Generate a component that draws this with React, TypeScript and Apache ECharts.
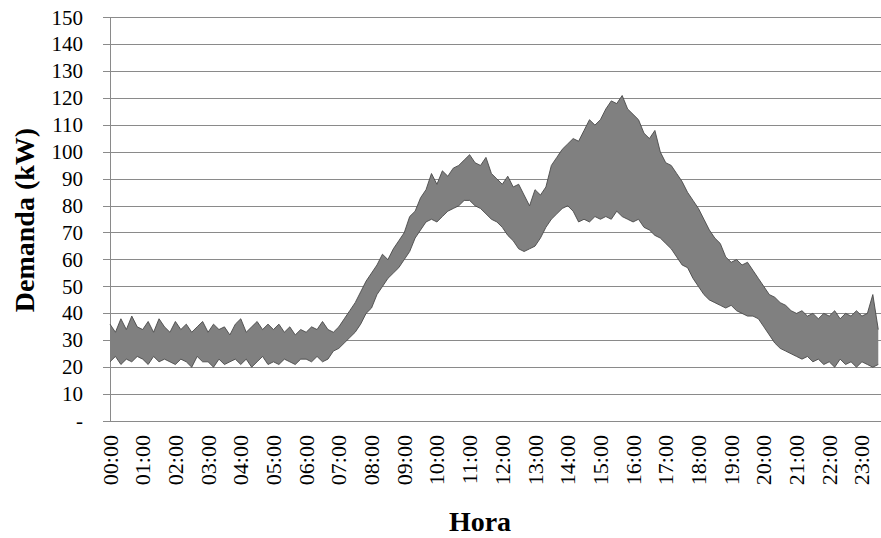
import React, { useEffect, useRef } from "react";
import * as echarts from "echarts";

// Demand samples every 10 minutes starting at 00:00 (kW).
const STEP_MIN = 10;

// Upper edge of the demand band.
const upper: number[] = [
  36, 33, 38, 34, 39, 35,
  34, 37, 33, 38, 35, 33,
  37, 34, 36, 33, 35, 37,
  33, 36, 34, 35, 32, 36,
  38, 33, 35, 37, 34, 36,
  34, 36, 33, 35, 32, 34,
  33, 35, 34, 37, 34, 33,
  35, 38, 41, 44, 48, 52,
  55, 58, 62, 60, 64, 67,
  70, 76, 78, 83, 86, 92,
  88, 93, 91, 94, 95, 97,
  99, 96, 95, 98, 92, 90,
  88, 91, 87, 88, 84, 80,
  86, 84, 87, 95, 98, 101,
  103, 105, 104, 108, 112, 110,
  112, 116, 119, 118, 121, 116,
  114, 112, 107, 105, 108, 100,
  96, 95, 92, 89, 85, 82,
  79, 75, 71, 68, 66, 61,
  59, 60, 58, 59, 56, 53,
  50, 47, 46, 44, 43, 41,
  40, 41, 39, 40, 38, 40,
  39, 41, 38, 40, 39, 41,
  39, 40, 47, 34,
];

// Lower edge of the demand band.
const lower: number[] = [
  22, 24, 21, 23, 22, 24,
  23, 21, 24, 22, 23, 22,
  21, 23, 22, 20, 24, 22,
  22, 20, 23, 21, 22, 23,
  21, 23, 20, 22, 24, 21,
  22, 21, 23, 22, 21, 23,
  23, 22, 24, 22, 23, 26,
  27, 29, 31, 33, 36, 40,
  42, 47, 50, 53, 55, 57,
  60, 63, 68, 71, 74, 75,
  74, 76, 78, 79, 80, 82,
  82, 80, 79, 77, 75, 74,
  72, 69, 67, 64, 63, 64,
  65, 68, 72, 75, 77, 79,
  80, 78, 74, 75, 74, 76,
  75, 76, 75, 78, 76, 75,
  74, 75, 72, 71, 69, 68,
  66, 64, 61, 58, 57, 53,
  50, 47, 45, 44, 43, 42,
  43, 41, 40, 39, 39, 38,
  35, 32, 29, 27, 26, 25,
  24, 23, 24, 22, 23, 21,
  22, 20, 23, 21, 22, 20,
  22, 21, 20, 21,
];

const yTicks = { min: 0, max: 150, step: 10 };
const xRangeMin = { min: 0, max: 1415, step: 60 };

const SERIF = '"Liberation Serif", "Times New Roman", serif';
const AXIS_GRAY = "#8a8a8a";

export default function App() {
  const ref = useRef<HTMLDivElement>(null);

  useEffect(() => {
    if (!ref.current) return;
    const chart = echarts.init(ref.current, undefined, { renderer: "svg" });

    const t = upper.map((_, i) => i * STEP_MIN);
    const bandData = upper.map((v, i) => [t[i], lower[i], v]);
    const top = upper.map((v, i) => [t[i], v]);
    const bottom = lower.map((v, i) => [t[i], v]);

    const hourLabel = (v: number) =>
      `${String(Math.round(v / 60)).padStart(2, "0")}:00`;

    // Whole band as one polygon: upper edge forward, lower edge back.
    const renderBand = (params: any, api: any) => {
      if (params.dataIndex !== 0) return null;
      const pts: number[][] = [];
      for (let i = 0; i < bandData.length; i++) {
        pts.push(api.coord([bandData[i][0], bandData[i][2]]));
      }
      for (let i = bandData.length - 1; i >= 0; i--) {
        pts.push(api.coord([bandData[i][0], bandData[i][1]]));
      }
      return {
        type: "polygon",
        shape: { points: pts },
        style: { fill: "#808080", stroke: "none" },
        silent: true,
      };
    };

    chart.setOption({
      animation: false,
      backgroundColor: "#ffffff",
      grid: { left: 110, right: 0, top: 17.5, bottom: 117 },
      xAxis: {
        type: "value",
        min: xRangeMin.min,
        max: xRangeMin.max,
        interval: xRangeMin.step,
        axisLine: { show: true, lineStyle: { color: AXIS_GRAY, width: 1 } },
        axisTick: { show: false },
        splitLine: { show: false },
        axisLabel: {
          rotate: 90,
          margin: 14,
          color: "#000",
          fontFamily: SERIF,
          fontSize: 22,
          showMaxLabel: false,
          formatter: hourLabel,
        },
      },
      yAxis: {
        type: "value",
        min: yTicks.min,
        max: yTicks.max,
        interval: yTicks.step,
        axisLine: { show: true, lineStyle: { color: AXIS_GRAY, width: 1 } },
        axisTick: {
          show: true,
          length: 7,
          lineStyle: { color: AXIS_GRAY, width: 1 },
        },
        splitLine: { show: true, lineStyle: { color: AXIS_GRAY, width: 1 } },
        axisLabel: {
          margin: 27,
          color: "#000",
          fontFamily: SERIF,
          fontSize: 21,
          formatter: (v: number) => (v === 0 ? "-" : String(v)),
        },
      },
      series: [
        {
          name: "Demanda",
          type: "custom",
          data: bandData,
          encode: { x: 0, y: [1, 2] },
          renderItem: renderBand,
          silent: true,
          z: 2,
        },
        {
          name: "max",
          type: "line",
          data: top,
          symbol: "none",
          silent: true,
          z: 3,
          lineStyle: { color: "#4a4a4a", width: 0.9 },
        },
        {
          name: "min",
          type: "line",
          data: bottom,
          symbol: "none",
          silent: true,
          z: 3,
          lineStyle: { color: "#4a4a4a", width: 0.9 },
        },
      ],
      graphic: [
        {
          type: "text",
          x: 480,
          y: 521,
          style: {
            text: "Hora",
            font: `bold 28px ${SERIF}`,
            fill: "#000",
            textAlign: "center",
            textVerticalAlign: "middle",
            align: "center",
            verticalAlign: "middle",
          },
        },
        {
          type: "text",
          x: 24,
          y: 220,
          rotation: Math.PI / 2,
          style: {
            text: "Demanda (kW)",
            font: `bold 28px ${SERIF}`,
            fill: "#000",
            textAlign: "center",
            textVerticalAlign: "middle",
            align: "center",
            verticalAlign: "middle",
          },
        },
      ],
    });

    return () => chart.dispose();
  }, []);

  return (
    <div
      ref={ref}
      style={{ position: "fixed", left: 0, top: 0, width: 881, height: 538 }}
    />
  );
}
